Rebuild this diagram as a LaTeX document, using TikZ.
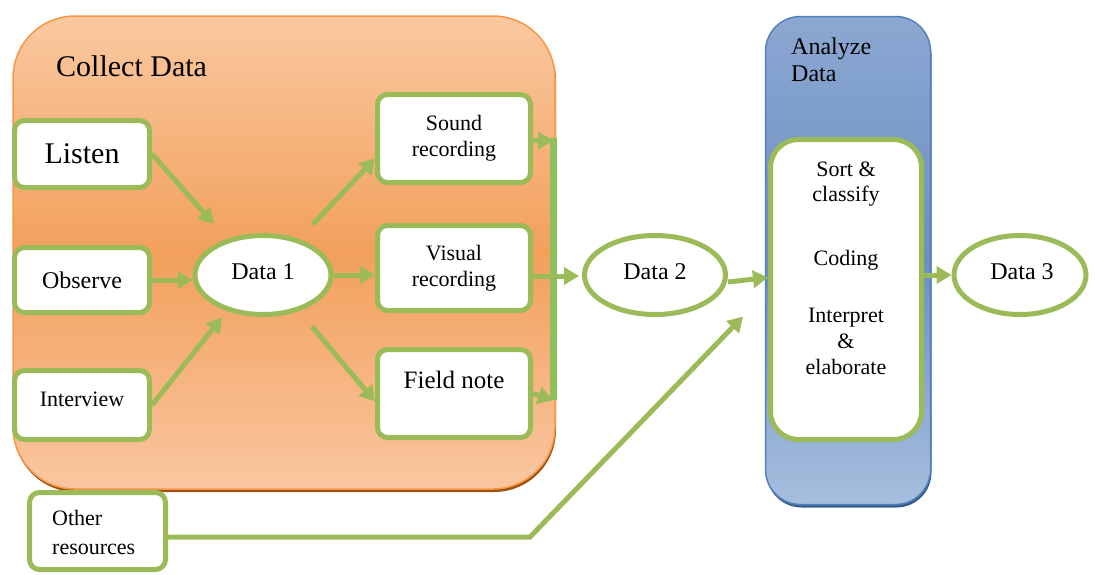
\documentclass[tikz,border=0pt]{standalone}
\usepackage{fontspec}
\setmainfont{Liberation Serif}
\usetikzlibrary{arrows.meta,shapes.geometric}
\definecolor{grn}{HTML}{9BBB59}
\definecolor{grnbar}{HTML}{8DC05A}
\definecolor{orgborder}{HTML}{F79646}
\definecolor{orgshadow}{HTML}{A0500F}
\definecolor{orgtop}{HTML}{FAC8A0}
\definecolor{orgmid}{HTML}{F2A05C}
\definecolor{orgbot}{HTML}{FAC6A0}
\definecolor{bluborder}{HTML}{4F81BD}
\definecolor{blushadow}{HTML}{385D8A}
\definecolor{blutop}{HTML}{8BA8D2}
\definecolor{blumid}{HTML}{6E8EC0}
\definecolor{blubot}{HTML}{A6BFDF}
\tikzset{
  box/.style={draw=grn, line width=5pt, fill=white, rounded corners=10pt, align=center, inner sep=0pt},
  oval/.style={draw=grn, line width=5pt, fill=white, ellipse, inner sep=0pt},
  arr/.style={draw=grn, line width=5pt, -{Triangle[length=15pt,width=17pt]}},
  txt/.style={inner sep=0pt, align=center},
  fA/.style={font=\fontsize{30pt}{33pt}\selectfont},
  fB/.style={font=\fontsize{24pt}{27pt}\selectfont},
  fC/.style={font=\fontsize{22pt}{26pt}\selectfont},
}
\begin{document}
\begin{tikzpicture}[x=1pt,y=-1pt]
\useasboundingbox (0,0) rectangle (1095,574);

% containers
\node[fill=orgshadow, rounded corners=62pt, minimum width=542pt, minimum height=473pt, inner sep=0pt] (collectshadow) at (285,255.5) {};
\node[draw=orgborder, line width=1.5pt, rounded corners=62pt, minimum width=542pt, minimum height=473pt, inner sep=0pt, top color=orgtop, bottom color=orgbot, middle color=orgmid] (collect) at (284,252.5) {};
\node[fill=blushadow, rounded corners=35pt, minimum width=165pt, minimum height=488pt, inner sep=0pt] (analyzeshadow) at (849,263.5) {};
\node[draw=bluborder, line width=1.5pt, rounded corners=35pt, minimum width=165pt, minimum height=488pt, inner sep=0pt, top color=blutop, bottom color=blubot, middle color=blumid] (analyze) at (848,260.5) {};

\node[anchor=base west, fA, inner sep=0pt] (collecttitle) at (56,76) {Collect Data};
\node[anchor=west, align=left, fB, inner sep=0pt] (analyzetitle) at (791,60) {Analyze\\Data};

% boxes
\node[box, fA, minimum width=135pt, minimum height=67pt] (listen) at (82,154) {Listen};
\node[box, fB, minimum width=135pt, minimum height=65pt] (observe) at (82,280) {Observe};
\node[box, minimum width=135pt, minimum height=69pt] (interview) at (82,405) {};
\node[txt, fC] (interviewtxt) at (82,399) {Interview};

\node[oval, minimum width=136pt, minimum height=79pt] (data1) at (263,275) {};
\node[txt, fB] (data1txt) at (263,272) {Data 1};

\node[box, fC, minimum width=153pt, minimum height=88pt] (sound) at (454,138.5) {Sound\\recording};
\node[box, fC, minimum width=153pt, minimum height=85pt] (visual) at (454,268) {Visual\\recording};
\node[box, minimum width=153pt, minimum height=88pt] (field) at (454,393.5) {};
\node[txt, font=\fontsize{25pt}{28pt}\selectfont] (fieldtxt) at (454,380) {Field note};

\node[oval, minimum width=141pt, minimum height=79pt] (data2) at (655,275) {};
\node[txt, fB] (data2txt) at (655,272) {Data 2};
\node[oval, minimum width=132pt, minimum height=79pt] (data3) at (1020,275) {};
\node[txt, fB] (data3txt) at (1022,272) {Data 3};

\node[box, rounded corners=28pt, minimum width=151pt, minimum height=300pt] (inner) at (846,289.5) {};
\node[txt, font=\fontsize{22pt}{25pt}\selectfont] (sorttxt) at (846,184) {Sort \&\\classify};
\node[txt, fC] (codingtxt) at (846,260) {Coding};
\node[txt, font=\fontsize{22pt}{26pt}\selectfont] (interptxt) at (846,341) {Interpret\\\&\\elaborate};

\node[box, minimum width=136pt, minimum height=77pt] (other) at (97.5,531) {};
\node[anchor=west, align=left, inner sep=0pt, font=\fontsize{22pt}{29pt}\selectfont] (othertxt) at (52,532) {Other\\resources};

% arrows inside Collect Data
\draw[arr, shorten >=20pt] (listen.east) -- (data1.135);
\draw[arr] (observe.east) -- (observe.east -| data1.west);
\draw[arr, shorten >=8pt] (interview.east) -- (data1.225);
\draw[arr, shorten <=20pt] (data1.45) -- ([yshift=-20pt]sound.west);
\draw[arr] (data1.east) -- (data1.east -| visual.west);
\draw[arr, shorten <=20pt] (data1.-45) -- ([yshift=-8pt]field.west);

% collector bar
\node[fill=grnbar, minimum width=7pt, minimum height=262pt, inner sep=0pt] (bar) at (553,269) {};
\draw[arr] ([yshift=-2pt]sound.east) -- ([yshift=-2pt]sound.east -| bar.center);
\draw[arr] (field.east) -- (bar.south);
\draw[arr, shorten >=3pt] ([yshift=-8pt]visual.east) -- ([yshift=-8pt]visual.east -| data2.west);

% Analyze connections
\draw[arr] ([yshift=-7pt]data2.east) -- ([yshift=12pt]inner.west);
\draw[arr] ([yshift=14.5pt]inner.east) -- (data3.west);
\coordinate (bend) at (530,537);
\draw[arr] (other.east |- bend) -- (bend) -- ([xshift=-25pt,yshift=-27pt]inner.west);
\end{tikzpicture}
\end{document}
